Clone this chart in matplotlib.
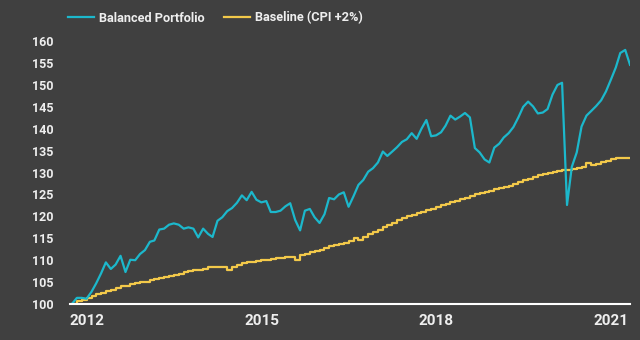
import matplotlib
matplotlib.use("Agg")
import matplotlib.pyplot as plt
import pandas as pd

# ---- data (monthly) ----
dates = pd.date_range("2011-09-30", periods=116, freq="ME")

portfolio = [
    100.0, 101.4, 101.4, 101.2, 102.8, 104.7, 107.0, 109.5, 108.0, 109.0,
    111.0, 107.3, 110.1, 110.0, 111.4, 112.3, 114.2, 114.5, 117.0, 117.2,
    118.1, 118.4, 118.1, 117.2, 117.5, 117.2, 115.2, 117.2, 116.0, 115.3,
    119.0, 119.8, 121.2, 121.9, 123.1, 124.8, 123.7, 125.6, 123.8, 123.2,
    123.5, 121.0, 121.0, 121.3, 122.3, 123.0, 119.2, 116.8, 121.3, 121.7,
    119.8, 118.5, 120.5, 124.2, 123.9, 125.0, 125.5, 122.2, 124.6, 127.2,
    128.3, 130.2, 131.0, 132.3, 134.8, 133.8, 134.8, 135.8, 137.0, 137.6,
    139.0, 137.7, 140.0, 142.0, 138.3, 138.5, 139.2, 140.7, 143.0, 142.1,
    142.8, 143.6, 142.6, 135.6, 134.6, 133.0, 132.3, 135.7, 136.6, 138.0,
    139.0, 140.4, 142.6, 145.0, 146.2, 145.1, 143.5, 143.7, 144.5, 147.8,
    150.0, 150.5, 122.6, 131.3, 134.6, 140.5, 143.0, 144.1, 145.2, 146.5,
    148.5, 151.2, 154.0, 157.3, 158.0, 154.6,
]

baseline = [
    100.0, 100.6, 101.0, 101.3, 101.8, 102.2, 102.5, 102.9, 103.3, 103.7,
    104.0, 104.2, 104.5, 104.8, 105.0, 105.1, 105.4, 105.6, 105.9, 106.1,
    106.3, 106.6, 106.9, 107.2, 107.5, 107.8, 107.8, 108.1, 108.4, 108.4,
    108.4, 108.4, 107.8, 108.5, 109.0, 109.3, 109.5, 109.6, 109.8, 110.0,
    110.1, 110.2, 110.4, 110.5, 110.7, 110.7, 110.0, 111.2, 111.5, 111.8,
    112.1, 112.4, 112.8, 113.2, 113.5, 113.8, 114.0, 114.3, 115.0, 114.6,
    115.3, 115.9, 116.4, 117.0, 117.6, 118.0, 118.6, 119.1, 119.6, 120.0,
    120.4, 120.8, 121.1, 121.4, 121.8, 122.1, 122.5, 122.9, 123.2, 123.6,
    123.9, 124.3, 124.6, 125.0, 125.3, 125.6, 125.9, 126.2, 126.4, 126.7,
    127.0, 127.4, 127.8, 128.2, 128.6, 129.1, 129.5, 129.7, 129.9, 130.1,
    130.3, 130.5, 130.7, 130.9, 131.0, 131.3, 132.2, 131.7, 132.0, 132.4,
    132.6, 133.0, 133.3, 133.3, 133.3, 133.3,
]

series_names = ["Balanced Portfolio", "Baseline (CPI +2%)"]
x_tick_years = [2012, 2015, 2018, 2021]
y_ticks = list(range(100, 161, 5))

# ---- style ----
BG = "#404040"
TXT = "#eeeeee"
TEAL = "#1cb8cc"
GOLD = "#f3c94a"

plt.rcParams["font.family"] = ["Roboto", "DejaVu Sans"]

fig = plt.figure(figsize=(6.4, 3.4), dpi=100, facecolor=BG)
ax = fig.add_axes([70 / 640, 1 - 304 / 340, 560 / 640, (304 - 32.4) / 340])
ax.set_facecolor(BG)

ax.plot(dates, portfolio, color=TEAL, lw=1.6, label=series_names[0], zorder=3)
ax.plot(dates, baseline, color=GOLD, lw=1.6, drawstyle="steps-post",
        label=series_names[1], zorder=2)

ax.set_xlim(dates[0] - pd.Timedelta(days=12), dates[-1])
ax.set_ylim(100, 162)

ax.set_yticks(y_ticks)
ax.set_yticklabels([str(v) for v in y_ticks])
xt = [pd.Timestamp(f"{y}-01-01") for y in x_tick_years]
ax.set_xticks(xt)
ax.set_xticklabels([str(y) for y in x_tick_years])

for s in ["top", "right", "left"]:
    ax.spines[s].set_visible(False)
ax.spines["bottom"].set_color("white")
ax.spines["bottom"].set_linewidth(1.5)
ax.spines["bottom"].set_zorder(4)

ax.tick_params(axis="both", length=0, colors=TXT)
ax.tick_params(axis="y", labelsize=9, pad=12)
ax.tick_params(axis="x", labelsize=11, pad=7)
for lab in ax.get_xticklabels() + ax.get_yticklabels():
    lab.set_fontweight("bold")

leg = fig.legend(loc="center left", bbox_to_anchor=(68 / 640, 1 - 18 / 340),
                 ncol=2, frameon=False, fontsize=9.2, handlelength=2.0,
                 handletextpad=0.45, columnspacing=1.5, borderpad=0,
                 borderaxespad=0)
for t in leg.get_texts():
    t.set_color(TXT)
    t.set_fontweight("bold")

fig.savefig("out.png", dpi=100, facecolor=BG)
